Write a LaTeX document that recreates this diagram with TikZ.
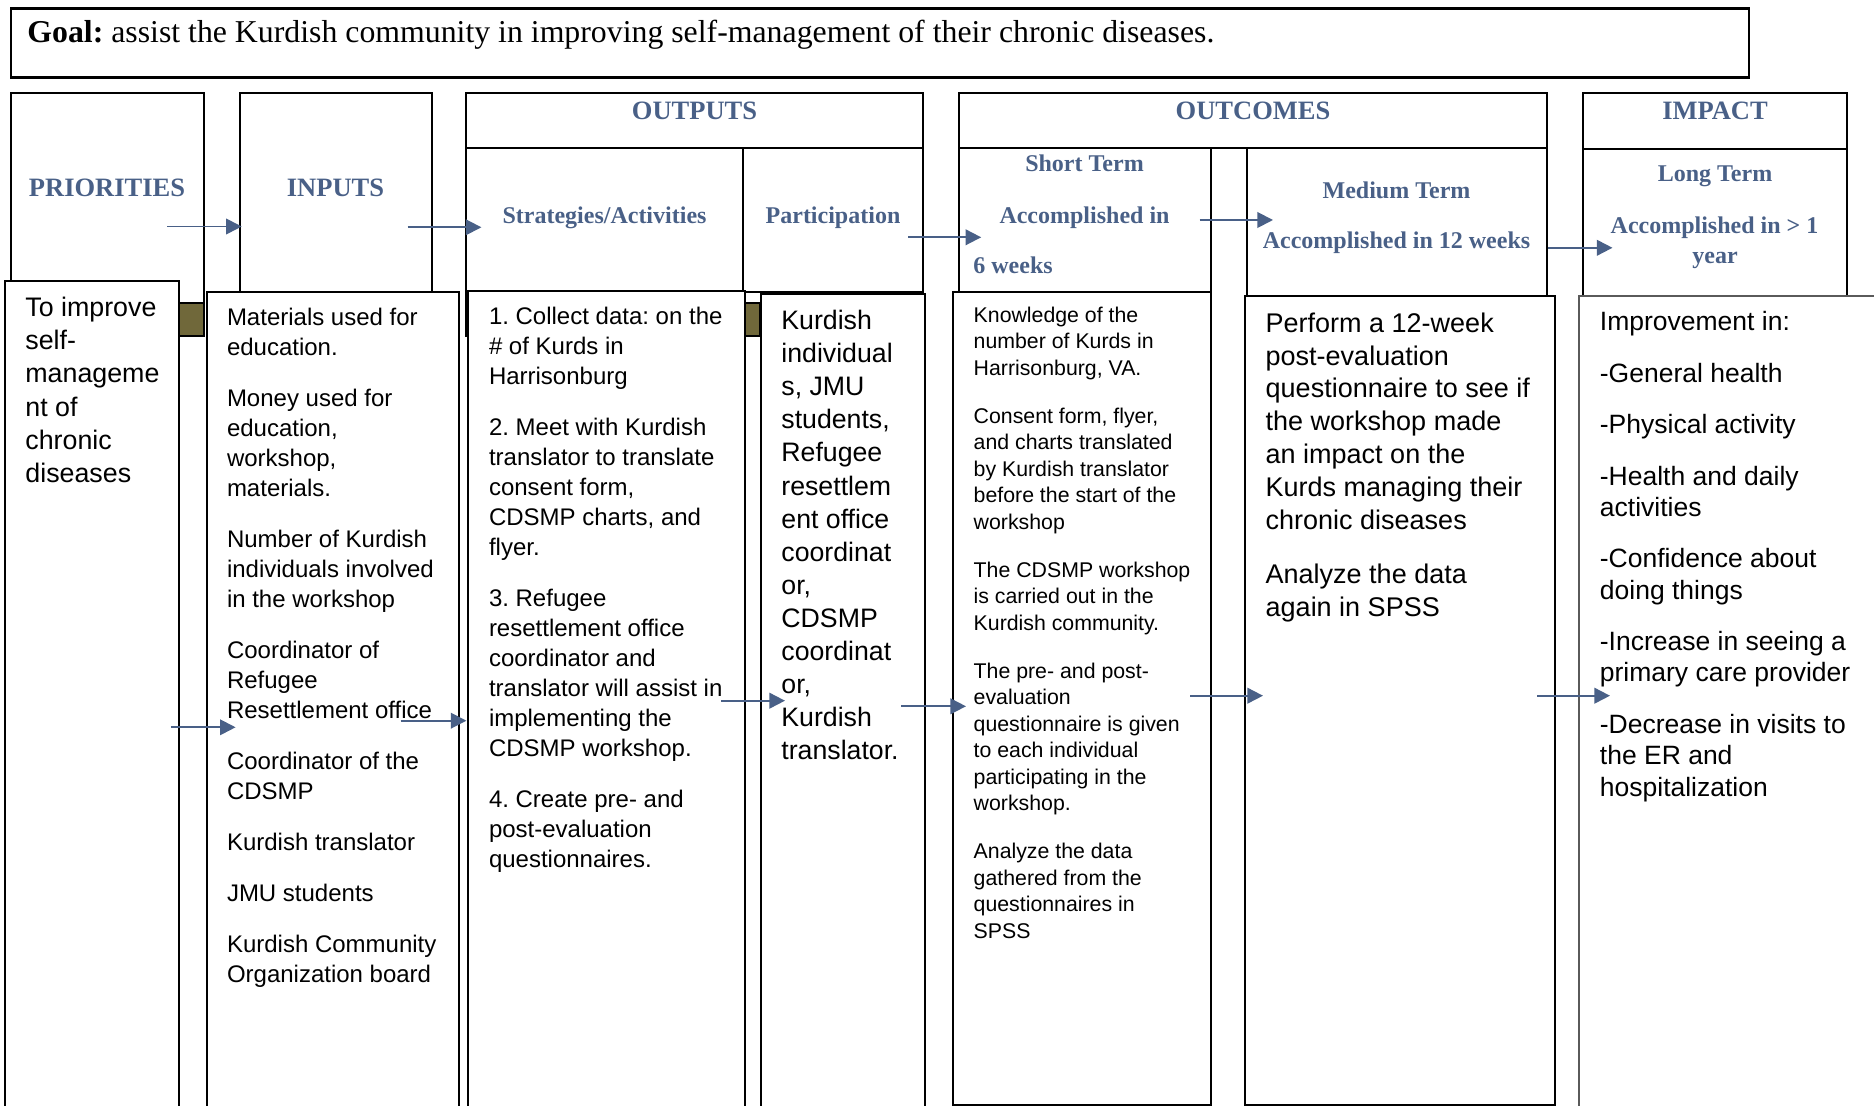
\documentclass[tikz,border=0pt]{standalone}
\usepackage{fontspec}
\setmainfont{Liberation Serif}
\newfontfamily\arialfont{Liberation Sans}
\usetikzlibrary{arrows.meta}
\frenchspacing

\definecolor{slate}{RGB}{73,96,135}
\definecolor{olivebox}{RGB}{112,104,58}
\definecolor{rimgray}{RGB}{90,90,90}

\tikzset{
  frame/.style={draw=black, line width=1pt},
  sheet/.style={draw=black, line width=1pt, fill=white},
  head/.style={anchor=base, inner sep=0pt, text=slate, font=\bfseries\fontsize{13.25}{16}\selectfont},
  subhead/.style={anchor=base, inner sep=0pt, text=slate, font=\bfseries\fontsize{12}{14}\selectfont},
  body/.style={anchor=north west, inner sep=0pt, align=left},
  flow/.style={draw=slate, line width=0.95pt, -{Triangle[length=7.8pt,width=7.8pt]}},
}

\begin{document}
\begin{tikzpicture}[x=0.5pt, y=-0.5pt]
\useasboundingbox (0,0) rectangle (1874,1106);
\clip (0,0) rectangle (1874,1106);

% Goal
\draw[line width=1.25pt] (11,8.3) rectangle (1749,77.7);
\node[anchor=base west, inner sep=0pt, font=\fontsize{15.9}{18}\selectfont] (goal) at (27,42.3) {\textbf{Goal:} assist the Kurdish community in improving self-management of their chronic diseases.};

% Header boxes
\draw[frame] (11,93) rectangle (204,336);
\draw[frame, fill=olivebox] (179,303) rectangle (204,336);
\draw[frame] (240,93) rectangle (432,292);
\draw[frame] (466,93) rectangle (923,148.3);
\draw[frame] (466,148.3) rectangle (743,336);
\draw[frame] (743,148.3) rectangle (923,292);
\draw[frame, fill=olivebox] (745,303) rectangle (760,336);
\draw[frame] (959,93) rectangle (1547,148.3);
\draw[frame] (959,148.3) rectangle (1210.6,292);
\draw[frame] (1246.7,148.3) rectangle (1547,296);
\draw[frame] (1583,93) rectangle (1847,149);
\draw[frame] (1583,149) rectangle (1847,296);

% Lower boxes
\draw[sheet] (5,281) rectangle (179,1120);
\draw[sheet] (207,292) rectangle (459,1120);
\draw[sheet] (468,291) rectangle (745,1120);
\draw[sheet] (760.7,294) rectangle (925,1120);
\draw[sheet] (953,292) rectangle (1210.6,1105);
\draw[sheet] (1245,296) rectangle (1555,1105);
\draw[sheet, draw=rimgray] (1579,296) rectangle (1900,1120);

% Headings
\node[head] (prio) at (107,196.5) {PRIORITIES};
\node[head] (inp) at (335.5,196.5) {INPUTS};
\node[head] (outp) at (694.5,119.3) {OUTPUTS};
\node[subhead] (strat) at (604.5,224) {Strategies/Activities};
\node[subhead] (part) at (833,224) {Participation};
\node[head] (outc) at (1253,119.3) {OUTCOMES};
\node[subhead] (short) at (1084.5,171.7) {Short Term};
\node[subhead] (shortacc) at (1084.5,224) {Accomplished in};
\node[subhead, anchor=base west] (shortwk) at (973,274) {6 weeks};
\node[subhead] (medium) at (1396.5,198.3) {Medium Term};
\node[subhead] (mediumacc) at (1396.5,248.3) {Accomplished in 12 weeks};
\node[head] (impact) at (1715,119.3) {IMPACT};
\node[subhead] (long) at (1715,181.7) {Long Term};
\node[subhead] (longacc) at (1714.5,233.3) {Accomplished in > 1};
\node[subhead] (longyr) at (1715,263.3) {year};

% Column texts
\node[body, font=\arialfont\fontsize{13.4}{16.6}\selectfont] (priotext) at (25,296.7) {To improve\\self-\\manageme\\nt of\\chronic\\diseases};
\node[body, font=\arialfont\fontsize{12}{15}\selectfont] (inptext) at (226.6,307.7) {Materials used for\\education.\\[10.5pt]Money used for\\education,\\workshop,\\materials.\\[10.5pt]Number of Kurdish\\individuals involved\\in the workshop\\[10.5pt]Coordinator of\\Refugee\\Resettlement office\\[10.5pt]Coordinator of the\\CDSMP\\[10.5pt]Kurdish translator\\[10.5pt]JMU students\\[10.5pt]Kurdish Community\\Organization board};
\node[body, font=\arialfont\fontsize{12}{15}\selectfont] (strattext) at (488.6,306.7) {1. Collect data: on the\\\# of Kurds in\\Harrisonburg\\[10.5pt]2. Meet with Kurdish\\translator to translate\\consent form,\\CDSMP charts, and\\flyer.\\[10.5pt]3. Refugee\\resettlement office\\coordinator and\\translator will assist in\\implementing the\\CDSMP workshop.\\[10.5pt]4. Create pre- and\\post-evaluation\\questionnaires.};
\node[body, font=\arialfont\fontsize{13.35}{16.55}\selectfont] (parttext) at (781,309.8) {Kurdish\\individual\\s, JMU\\students,\\Refugee\\resettlem\\ent office\\coordinat\\or,\\CDSMP\\coordinat\\or,\\Kurdish\\translator.};
\node[body, font=\arialfont\fontsize{10.65}{13.25}\selectfont] (shorttext) at (973.3,306.4) {Knowledge of the\\number of Kurds in\\Harrisonburg, VA.\\[10.75pt]Consent form, flyer,\\and charts translated\\by Kurdish translator\\before the start of the\\workshop\\[10.75pt]The CDSMP workshop\\is carried out in the\\Kurdish community.\\[10.75pt]The pre- and post-\\evaluation\\questionnaire is given\\to each individual\\participating in the\\workshop.\\[10.75pt]Analyze the data\\gathered from the\\questionnaires in\\SPSS};
\node[body, font=\arialfont\fontsize{13.5}{16.4}\selectfont] (mediumtext) at (1265.3,312.3) {Perform a 12-week\\post-evaluation\\questionnaire to see if\\the workshop made\\an impact on the\\Kurds managing their\\chronic diseases\\[11pt]Analyze the data\\again in SPSS};
\node[body, font=\arialfont\fontsize{13.25}{15.65}\selectfont] (impacttext) at (1599.5,310.9) {Improvement in:\\[10.1pt]-General health\\[10.1pt]-Physical activity\\[10.1pt]-Health and daily\\activities\\[10.1pt]-Confidence about\\doing things\\[10.1pt]-Increase in seeing a\\primary care provider\\[10.1pt]-Decrease in visits to\\the ER and\\hospitalization};

% Arrows between the headings
\coordinate (h1s) at (167.3,226.5); \coordinate (h1e) at (241.7,226.5);
\coordinate (h2s) at (407.7,227.3); \coordinate (h2e) at (481.4,227.3);
\coordinate (h3s) at (908,237.3);   \coordinate (h3e) at (981.2,237.3);
\coordinate (h4s) at (1199.7,220);  \coordinate (h4e) at (1273,220);
\coordinate (h5s) at (1548,247.8);  \coordinate (h5e) at (1612.5,247.8);
\draw[flow] (h1s) -- (h1e);
\draw[flow] (h2s) -- (h2e);
\draw[flow] (h3s) -- (h3e);
\draw[flow] (h4s) -- (h4e);
\draw[flow] (h5s) -- (h5e);

% Arrows between the columns
\coordinate (c1s) at (170.9,727.3); \coordinate (c1e) at (235.6,727.3);
\coordinate (c2s) at (400.5,720.7); \coordinate (c2e) at (466.4,720.7);
\coordinate (c3s) at (721,700.7);   \coordinate (c3e) at (785,700.7);
\coordinate (c4s) at (901,706.3);   \coordinate (c4e) at (966,706.3);
\coordinate (c5s) at (1190,695.7);  \coordinate (c5e) at (1263,695.7);
\coordinate (c6s) at (1537,695.7);  \coordinate (c6e) at (1610,695.7);
\draw[flow] (c1s) -- (c1e);
\draw[flow] (c2s) -- (c2e);
\draw[flow] (c3s) -- (c3e);
\draw[flow] (c4s) -- (c4e);
\draw[flow] (c5s) -- (c5e);
\draw[flow] (c6s) -- (c6e);

\end{tikzpicture}
\end{document}
